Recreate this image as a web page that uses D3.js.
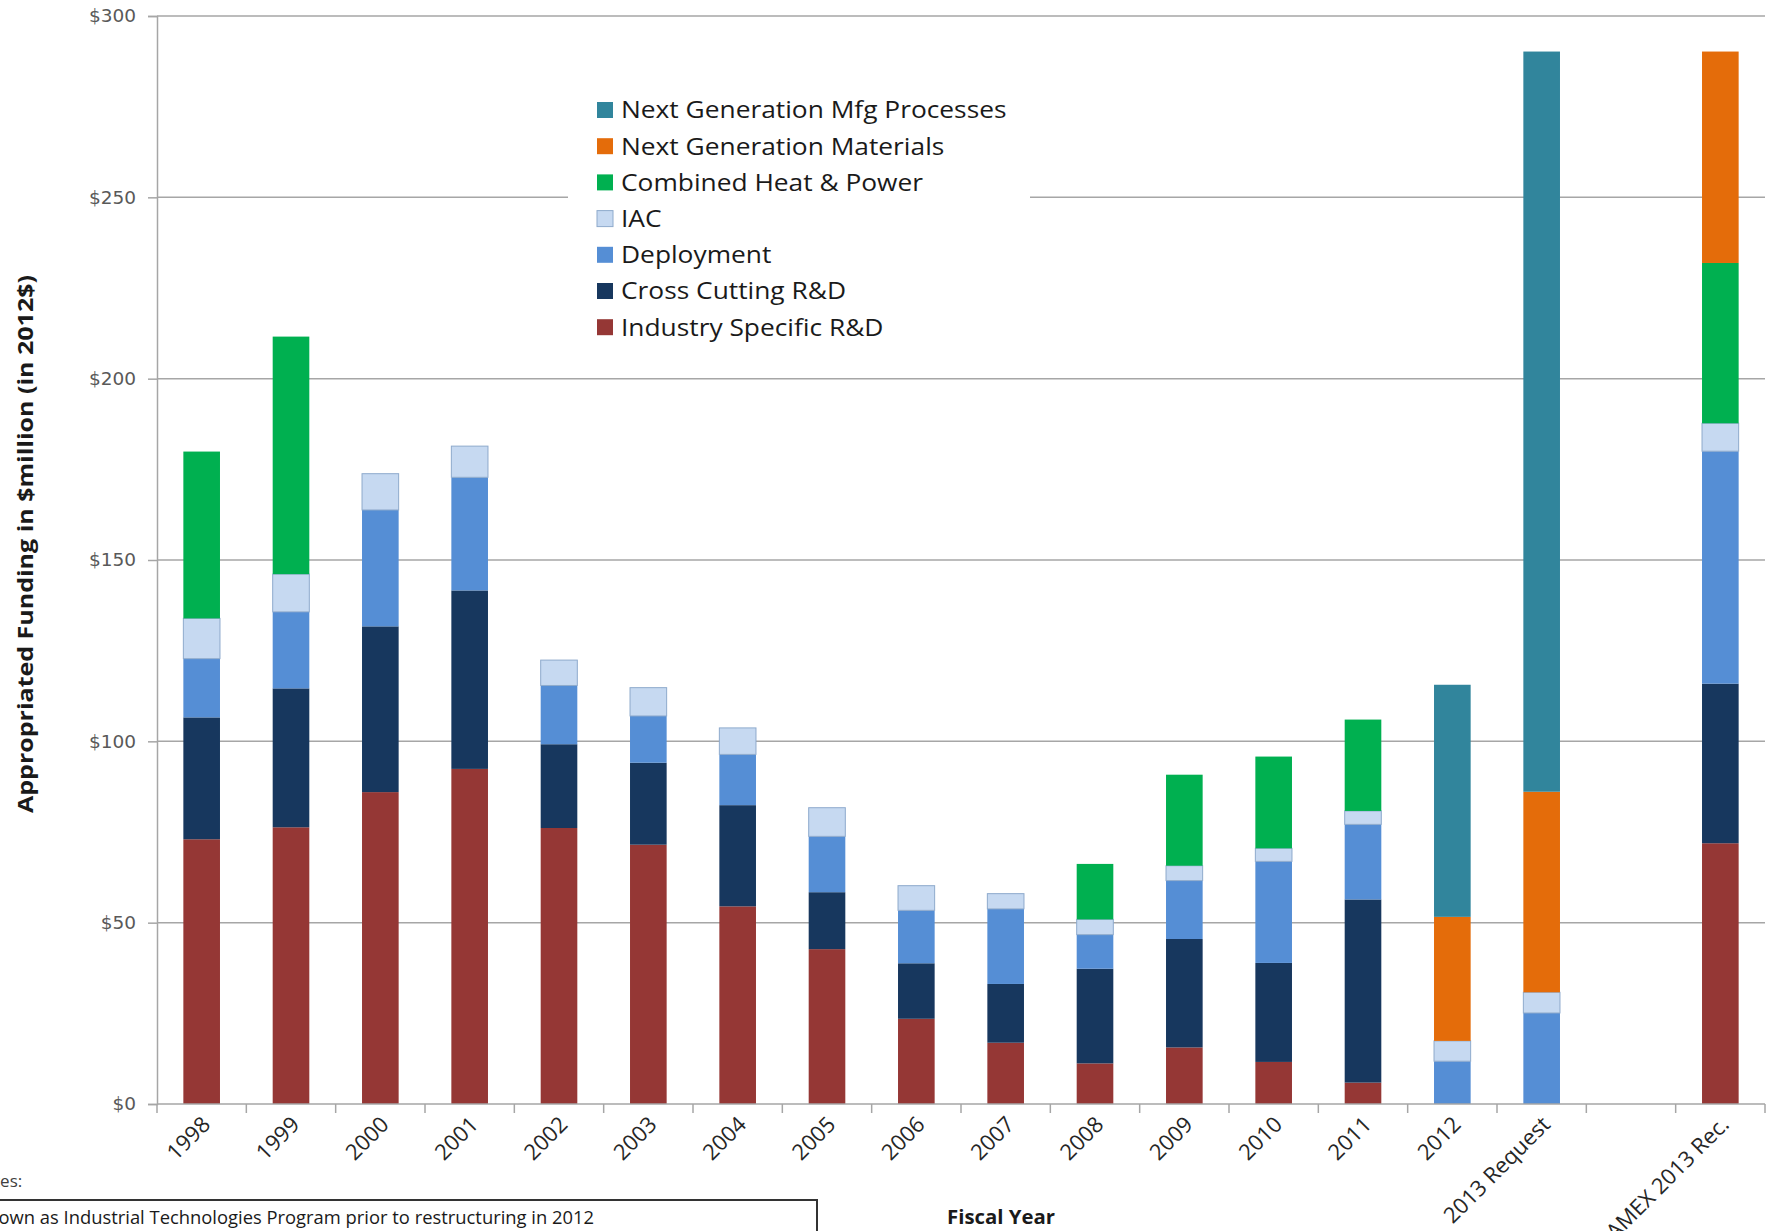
<!DOCTYPE html>
<html>
<head>
<meta charset="utf-8">
<script src="https://cdn.jsdelivr.net/npm/d3@7"></script>
<style>
  html, body { margin: 0; padding: 0; background: #fff; overflow: hidden; }
  svg { display: block; }
</style>
</head>
<body>
<svg id="chart" width="1775" height="1231"></svg>
<script>
// Fiscal years and budget scenarios along the x axis (one empty slot before the last bar)
const categories = ["1998", "1999", "2000", "2001", "2002", "2003", "2004", "2005",
  "2006", "2007", "2008", "2009", "2010", "2011", "2012", "2013 Request", "", "AMEX 2013 Rec."];

// Appropriated funding by program, $million (2012$)
const industrySpecific = [73.0, 76.3, 86.0, 92.4, 76.1, 71.5, 54.5, 42.7, 23.5, 16.9, 11.2, 15.6, 11.6, 5.9, 0, 0, 0, 71.9];
const crossCutting     = [33.6, 38.3, 45.7, 49.2, 23.1, 22.6, 27.9, 15.7, 15.3, 16.2, 26.1, 29.9, 27.3, 50.5, 0, 0, 0, 44.0];
const deployment       = [16.2, 21.1, 32.1, 31.2, 16.2, 12.9, 14.0, 15.4, 14.6, 20.7, 9.4, 16.1, 28.0, 20.7, 11.8, 25.1, 0, 64.1];
const iac              = [11.1, 10.4, 10.0, 8.6, 7.0, 7.8, 7.3, 7.9, 6.8, 4.2, 4.2, 4.1, 3.6, 3.7, 5.6, 5.7, 0, 7.7];
const chp              = [46.0, 65.5, 0, 0, 0, 0, 0, 0, 0, 0, 15.3, 25.1, 25.3, 25.2, 0, 0, 0, 44.2];
const nextGenMaterials = [0, 0, 0, 0, 0, 0, 0, 0, 0, 0, 0, 0, 0, 0, 34.2, 55.3, 0, 58.3];
const nextGenMfg       = [0, 0, 0, 0, 0, 0, 0, 0, 0, 0, 0, 0, 0, 0, 64.0, 204.1, 0, 0];

const seriesNames = ["Industry Specific R&D", "Cross Cutting R&D", "Deployment", "IAC",
  "Combined Heat & Power", "Next Generation Materials", "Next Generation Mfg Processes"];
const seriesValues = [industrySpecific, crossCutting, deployment, iac, chp, nextGenMaterials, nextGenMfg];
const seriesColors = ["#953735", "#17375E", "#558ED5", "#C6D9F1", "#00B050", "#E46C0A", "#31859C"];

const yTicks = [0, 50, 100, 150, 200, 250, 300];

const rows = categories.map((c, i) => {
  const r = { cat: c };
  seriesNames.forEach((s, k) => { r[s] = seriesValues[k][i]; });
  return r;
});

const svg = d3.select("#chart");
const plot = { left: 157, right: 1765, top: 16, bottom: 1104 };

const x = d3.scaleBand().domain(categories).range([plot.left, plot.right]).paddingInner(0.59).paddingOuter(0.295);
const xBand = d3.scaleBand().domain(categories).range([plot.left, plot.right]);
const y = d3.scaleLinear().domain([0, 300]).range([plot.bottom, plot.top]);
const color = d3.scaleOrdinal().domain(seriesNames).range(seriesColors);

svg.append("rect").attr("width", 1775).attr("height", 1231).attr("fill", "#fff");

// horizontal gridlines
svg.append("g").selectAll("line").data(yTicks.filter(t => t > 0)).join("line")
  .attr("x1", plot.left).attr("x2", plot.right)
  .attr("y1", d => y(d)).attr("y2", d => y(d))
  .attr("stroke", "#a6a6a6").attr("stroke-width", 1.5);

// y axis with dollar labels
const yAxis = d3.axisLeft(y).tickValues(yTicks).tickSize(9).tickPadding(12).tickFormat(d => "$" + d);
const gy = svg.append("g").attr("transform", `translate(${plot.left},0)`).call(yAxis);
gy.select(".domain").attr("stroke", "#a6a6a6").attr("stroke-width", 1.5);
gy.selectAll(".tick line").attr("stroke", "#a6a6a6").attr("stroke-width", 1.5);
gy.selectAll(".tick text").attr("fill", "#595959")
  .style("font-family", "'DejaVu Sans', Verdana, sans-serif").style("font-size", "18.5px");

// legend background knocks out the gridline behind it
svg.append("rect").attr("x", 568).attr("y", 86).attr("width", 462).attr("height", 258).attr("fill", "#fff");

// stacked bars
const stacked = d3.stack().keys(seriesNames)(rows);
svg.append("g").selectAll("g").data(stacked).join("g")
  .attr("fill", d => color(d.key))
  .attr("stroke", d => d.key === "IAC" ? "#8EAACC" : "none")
  .attr("stroke-width", 1)
  .selectAll("rect").data(d => d.filter(p => p[1] - p[0] > 0)).join("rect")
  .attr("x", d => x(d.data.cat))
  .attr("width", x.bandwidth())
  .attr("y", d => y(d[1]))
  .attr("height", d => y(d[0]) - y(d[1]));

// x axis: baseline, boundary ticks and rotated category labels
const gx = svg.append("g");
gx.append("line").attr("x1", plot.left).attr("x2", plot.right)
  .attr("y1", plot.bottom).attr("y2", plot.bottom)
  .attr("stroke", "#a6a6a6").attr("stroke-width", 1.5);
const bounds = categories.map(c => xBand(c)).concat([plot.right]);
gx.selectAll("line.tk").data(bounds).join("line").attr("class", "tk")
  .attr("x1", d => d).attr("x2", d => d)
  .attr("y1", plot.bottom).attr("y2", plot.bottom + 9)
  .attr("stroke", "#a6a6a6").attr("stroke-width", 1.5);
gx.selectAll("text").data(categories.filter(c => c !== "")).join("text")
  .attr("transform", c => `translate(${xBand(c) + xBand.bandwidth() / 2 - 1},${plot.bottom + 11}) rotate(-45)`)
  .attr("text-anchor", "end")
  .attr("dy", "0.7em")
  .attr("fill", "#262626")
  .style("font-family", "'Open Sans', sans-serif").style("font-size", "22px")
  .text(c => c);

// legend, top entry = top of stack
const legendOrder = seriesNames.slice().reverse();
const lg = svg.append("g").attr("transform", "translate(597,110)");
const item = lg.selectAll("g").data(legendOrder).join("g")
  .attr("transform", (d, i) => `translate(0,${i * 36.2})`);
item.append("rect").attr("x", 0).attr("y", -8).attr("width", 16).attr("height", 16)
  .attr("fill", d => color(d))
  .attr("stroke", d => d === "IAC" ? "#8EAACC" : "none");
item.append("text").attr("x", 24).attr("dy", "0.36em")
  .attr("fill", "#1a1a1a")
  .style("font-family", "'Open Sans', sans-serif").style("font-size", "23.5px")
  .text(d => d)
  .each(function () {
    // slightly wide lettering for the legend entries
    const w = this.getComputedTextLength();
    d3.select(this).attr("textLength", w * 1.12).attr("lengthAdjust", "spacingAndGlyphs");
  });

// axis titles
svg.append("text")
  .attr("transform", "translate(33,544) rotate(-90)")
  .attr("text-anchor", "middle")
  .attr("textLength", 538).attr("lengthAdjust", "spacingAndGlyphs")
  .attr("fill", "#1a1a1a")
  .style("font-family", "'Open Sans', sans-serif").style("font-size", "22px").style("font-weight", "700")
  .text("Appropriated Funding in $million (in 2012$)");

svg.append("text")
  .attr("x", 1001).attr("y", 1224)
  .attr("text-anchor", "middle")
  .attr("textLength", 108).attr("lengthAdjust", "spacingAndGlyphs")
  .attr("fill", "#1a1a1a")
  .style("font-family", "'Open Sans', sans-serif").style("font-size", "20px").style("font-weight", "700")
  .text("Fiscal Year");

// footnote block at the lower left
svg.append("text")
  .attr("x", -29).attr("y", 1187)
  .attr("fill", "#404040")
  .style("font-family", "'Open Sans', sans-serif").style("font-size", "17px")
  .text("Notes:");
svg.append("rect")
  .attr("x", -10).attr("y", 1200).attr("width", 827).attr("height", 60)
  .attr("fill", "none").attr("stroke", "#333").attr("stroke-width", 2);
svg.append("text")
  .attr("x", -24).attr("y", 1224)
  .attr("textLength", 618).attr("lengthAdjust", "spacingAndGlyphs")
  .attr("fill", "#1a1a1a")
  .style("font-family", "'Open Sans', sans-serif").style("font-size", "18px")
  .text("Known as Industrial Technologies Program prior to  restructuring in 2012");
</script>
</body>
</html>
